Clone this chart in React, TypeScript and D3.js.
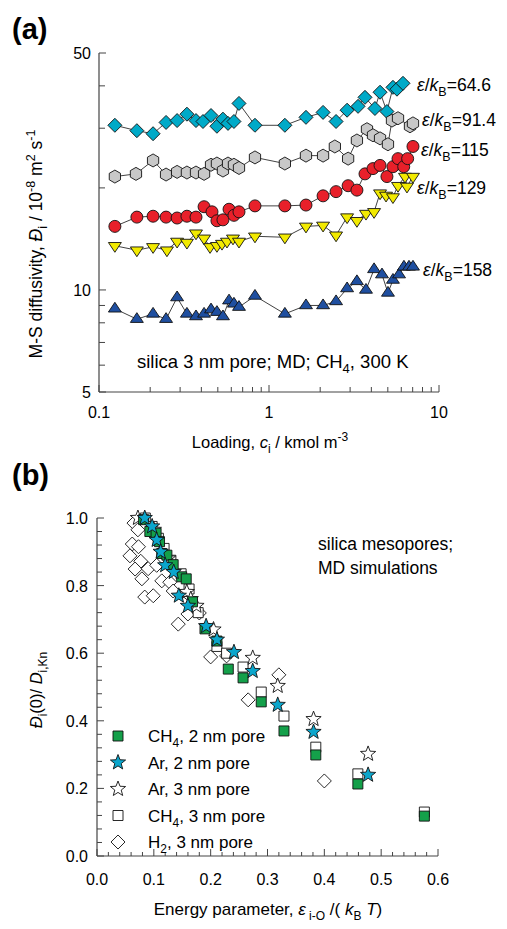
import React from "react";
import * as d3 from "d3";

// ---------- panel (a): M-S diffusivity vs loading, CH4 in 3 nm silica pore ----------
const eps646: [number, number][] = [[0.124,30.6],[0.167,29.5],[0.208,28.9],[0.248,31.2],[0.288,31.6],[0.329,33.0],[0.372,31.6],[0.409,31.4],[0.456,32.7],[0.494,30.4],[0.536,31.9],[0.574,31.0],[0.622,31.4],[0.666,35.5],[0.827,30.6],[1.24,30.6],[1.65,32.3],[2.08,33.4],[2.48,31.4],[2.88,33.9],[3.34,34.8],[3.67,37.0],[4.2,34.3],[4.5,38.3],[4.94,33.6],[5.36,39.6],[5.66,39.1],[6.14,40.7]];
const eps914: [number, number][] = [[0.124,21.6],[0.165,22.0],[0.208,24.1],[0.248,21.9],[0.288,22.3],[0.329,22.2],[0.372,22.2],[0.415,22.0],[0.456,23.4],[0.494,23.6],[0.536,22.5],[0.574,23.6],[0.622,23.4],[0.666,22.9],[0.827,24.6],[1.24,23.6],[1.65,24.9],[2.08,24.9],[2.44,26.5],[2.92,24.4],[3.29,27.6],[3.77,29.8],[4.09,28.6],[4.5,28.0],[5.01,26.9],[5.29,31.6],[5.74,32.1],[6.75,30.4],[7.03,31.0]];
const eps115: [number, number][] = [[0.124,15.4],[0.167,16.4],[0.208,16.5],[0.248,16.4],[0.288,16.3],[0.329,16.5],[0.372,16.4],[0.415,17.6],[0.462,17.0],[0.494,16.0],[0.536,16.1],[0.582,17.3],[0.622,16.6],[0.666,17.0],[0.827,17.7],[1.24,17.7],[1.65,17.8],[2.08,18.95],[2.48,19.5],[2.92,20.3],[3.29,19.7],[3.67,22.0],[4.09,22.8],[4.5,23.3],[4.94,21.6],[5.36,23.1],[5.74,24.4],[6.2,23.1],[6.54,24.4],[7.03,26.5]];
const eps129: [number, number][] = [[0.124,13.5],[0.167,13.1],[0.208,13.4],[0.251,13.1],[0.288,13.9],[0.329,13.8],[0.372,14.7],[0.415,14.2],[0.450,13.4],[0.494,13.5],[0.529,13.7],[0.566,13.9],[0.614,14.2],[0.666,13.9],[0.827,14.4],[1.24,14.3],[1.65,15.4],[2.08,15.5],[2.48,14.5],[2.88,16.4],[3.29,16.0],[3.72,16.8],[4.15,17.0],[4.5,19.3],[4.88,19.0],[5.36,18.8],[5.74,20.3],[6.31,21.6],[6.48,20.2],[7.03,21.6]];
const eps158: [number, number][] = [[0.124,8.8],[0.167,8.2],[0.208,8.5],[0.248,8.2],[0.288,9.5],[0.329,8.5],[0.372,8.35],[0.415,8.5],[0.456,8.75],[0.494,8.6],[0.536,8.35],[0.582,9.3],[0.622,9.1],[0.666,8.9],[0.827,9.6],[1.24,8.5],[1.65,9.0],[2.08,9.0],[2.48,9.25],[2.88,10.1],[3.29,10.6],[3.72,10.0],[4.15,11.5],[4.62,11.1],[5.01,9.8],[5.36,10.7],[5.82,11.1],[6.22,11.7],[6.66,11.7],[7.03,11.7]];

const epsLabels = ["64.6", "91.4", "115", "129", "158"];
const xTicksA = [0.1, 1, 10];
const xTickLabelsA = ["0.1", "1", "10"];
const xMinorA = [0.2, 0.3, 0.4, 0.5, 0.6, 0.7, 0.8, 0.9, 2, 3, 4, 5, 6, 7, 8, 9];
const yTicksA = [5, 10, 50];
const yMinorA = [6, 7, 8, 9, 20, 30, 40];

// ---------- panel (b): normalized zero-loading diffusivity vs energy parameter ----------
const ch4_2nm: [number, number][] = [[0.082,0.995],[0.093,0.96],[0.104,0.955],[0.110,0.93],[0.114,0.895],[0.123,0.89],[0.134,0.862],[0.149,0.826],[0.157,0.82],[0.168,0.752],[0.190,0.672],[0.211,0.636],[0.231,0.553],[0.257,0.527],[0.289,0.456],[0.329,0.370],[0.385,0.299],[0.459,0.213],[0.576,0.118]];
const ar_2nm: [number, number][] = [[0.084,1.0],[0.097,0.975],[0.105,0.935],[0.112,0.9],[0.120,0.86],[0.135,0.84],[0.144,0.77],[0.160,0.74],[0.192,0.68],[0.211,0.64],[0.241,0.603],[0.274,0.547],[0.318,0.447],[0.381,0.367],[0.477,0.240]];
const ar_3nm: [number, number][] = [[0.072,1.0],[0.100,0.965],[0.125,0.88],[0.158,0.781],[0.165,0.76],[0.175,0.74],[0.205,0.67],[0.274,0.586],[0.318,0.503],[0.381,0.405],[0.477,0.302]];
const ch4_3nm: [number, number][] = [[0.085,1.0],[0.097,0.975],[0.108,0.94],[0.118,0.91],[0.130,0.875],[0.148,0.835],[0.162,0.79],[0.178,0.72],[0.211,0.62],[0.228,0.60],[0.257,0.559],[0.289,0.485],[0.329,0.414],[0.385,0.322],[0.459,0.243],[0.576,0.130]];
const h2_3nm: [number, number][] = [[0.065,0.985],[0.072,0.965],[0.062,0.923],[0.073,0.915],[0.058,0.888],[0.077,0.872],[0.067,0.849],[0.090,0.85],[0.079,0.82],[0.105,0.86],[0.114,0.814],[0.128,0.81],[0.134,0.784],[0.084,0.766],[0.099,0.77],[0.143,0.686],[0.160,0.716],[0.180,0.719],[0.200,0.589],[0.228,0.592],[0.266,0.462],[0.320,0.536],[0.400,0.222]];

const legendB = ["CH4, 2 nm pore", "Ar, 2 nm pore", "Ar, 3 nm pore", "CH4, 3 nm pore", "H2, 3 nm pore"];
const xTicksB = [0, 0.1, 0.2, 0.3, 0.4, 0.5, 0.6];
const yTicksB = [0, 0.2, 0.4, 0.6, 0.8, 1.0];

const FONT = "'Liberation Sans', Arial, Helvetica, sans-serif";
const AXIS = "#444";

// marker paths centred on the origin
const diamondPath = (r: number) => `M0,${-r}L${r},0L0,${r}L${-r},0Z`;
const hexPath = (r: number) =>
  d3.range(6).map((k) => {
    const a = (-90 + k * 60) * Math.PI / 180;
    return `${k ? "L" : "M"}${(r * Math.cos(a)).toFixed(2)},${(r * Math.sin(a)).toFixed(2)}`;
  }).join("") + "Z";
const triPath = (r: number, down: boolean) => {
  const s = down ? -1 : 1;
  const h = r * 1.5;
  return `M0,${-s * r}L${r * 0.866 * 1.15},${s * h / 3}L${-r * 0.866 * 1.15},${s * h / 3}Z`;
};
const starPath = (ro: number, ri: number) =>
  d3.range(10).map((k) => {
    const a = (-90 + k * 36) * Math.PI / 180;
    const r = k % 2 ? ri : ro;
    return `${k ? "L" : "M"}${(r * Math.cos(a)).toFixed(2)},${(r * Math.sin(a)).toFixed(2)}`;
  }).join("") + "Z";
const squarePath = (h: number) => `M${-h},${-h}H${h}V${h}H${-h}Z`;

// subscripted chemical label, e.g. "CH4, 2 nm pore"
function ChemLabel({ text, x, y }: { text: string; x: number; y: number }) {
  const m = text.match(/^([A-Za-z]+?)(\d)(,.*)$/);
  if (!m) return <text x={x} y={y}>{text}</text>;
  return (
    <text x={x} y={y}>
      {m[1]}
      <tspan dy={5} fontSize={12}>{m[2]}</tspan>
      <tspan dy={-5}>{m[3]}</tspan>
    </text>
  );
}

export default function App() {
  // panel (a) scales
  const xA = d3.scaleLog().domain([0.1, 10]).range([99, 439]);
  const yA = d3.scaleLog().domain([5, 50]).range([392, 53]);
  // panel (b) scales
  const xB = d3.scaleLinear().domain([0, 0.6]).range([97, 438]);
  const yB = d3.scaleLinear().domain([0, 1]).range([856, 518]);

  const lineA = d3.line<[number, number]>().x((d) => xA(d[0])).y((d) => yA(d[1]));

  const seriesA = [
    { data: eps646, fill: "#00aac8", path: diamondPath(7) },
    { data: eps914, fill: "#c8c8c8", path: hexPath(6.5) },
    { data: eps115, fill: "#e8202a", path: "" },
    { data: eps129, fill: "#f2ea00", path: triPath(6.5, true) },
    { data: eps158, fill: "#1f4fa0", path: triPath(6.5, false) },
  ];
  const labelPos = [
    [417, 91], [422, 126], [421, 156], [417, 194], [423, 276],
  ];

  const xMinorB = d3.range(0, 31).map((i) => i * 0.02);
  const yMinorB = d3.range(0, 26).map((i) => i * 0.04);

  const legendMarks = [
    { path: squarePath(5), fill: "#14a04a" },
    { path: starPath(8, 3.4), fill: "#0ba6cc" },
    { path: starPath(8, 3.4), fill: "#fff" },
    { path: squarePath(5), fill: "#fff" },
    { path: diamondPath(7), fill: "#fff" },
  ];

  return (
    <svg width={507} height={929} style={{ position: "absolute", left: 0, top: 0, background: "#fff" }}
      fontFamily={FONT}>
      {/* ---------------- panel (a) ---------------- */}
      <text x={12} y={39} fontSize={29} fontWeight="bold">(a)</text>

      {/* axes */}
      <line x1={99} x2={99} y1={yA(50)} y2={yA(5)} stroke={AXIS} strokeWidth={1.2} />
      <line x1={99} x2={439} y1={392} y2={392} stroke={AXIS} strokeWidth={1.2} />
      {xTicksA.map((t, i) => (
        <g key={"xa" + t}>
          <line x1={xA(t)} x2={xA(t)} y1={392} y2={385} stroke={AXIS} />
          <text x={xA(t)} y={418} fontSize={16} textAnchor="middle">{xTickLabelsA[i]}</text>
        </g>
      ))}
      {xMinorA.map((t) => (
        <line key={"xam" + t} x1={xA(t)} x2={xA(t)} y1={392} y2={387} stroke={AXIS} />
      ))}
      {yTicksA.map((t) => (
        <g key={"ya" + t}>
          <line x1={99} x2={106} y1={yA(t)} y2={yA(t)} stroke={AXIS} />
          <text x={91} y={yA(t) + 6} fontSize={16} textAnchor="end">{t}</text>
        </g>
      ))}
      {yMinorA.map((t) => (
        <line key={"yam" + t} x1={99} x2={105} y1={yA(t)} y2={yA(t)} stroke={AXIS} />
      ))}

      {/* series */}
      {seriesA.map((s, si) => (
        <g key={"sa" + si}>
          <path d={lineA(s.data) || ""} fill="none" stroke="#111" strokeWidth={0.8} />
          {s.data.map((d, i) =>
            s.path ? (
              <path key={i} d={s.path} transform={`translate(${xA(d[0])},${yA(d[1])})`}
                fill={s.fill} stroke="#111" strokeWidth={0.9} />
            ) : (
              <circle key={i} cx={xA(d[0])} cy={yA(d[1])} r={6} fill={s.fill} stroke="#111" strokeWidth={0.9} />
            )
          )}
        </g>
      ))}

      {epsLabels.map((l, i) => (
        <text key={"lab" + l} x={labelPos[i][0]} y={labelPos[i][1]} fontSize={17.5}>
          <tspan fontStyle="italic">ε</tspan>/<tspan fontStyle="italic">k</tspan>
          <tspan dy={5} fontSize={12.5}>B</tspan>
          <tspan dy={-5}>={l}</tspan>
        </text>
      ))}

      <text x={137} y={368} fontSize={18.5}>
        silica 3 nm pore; MD; CH<tspan dy={5} fontSize={13}>4</tspan><tspan dy={-5}>, 300 K</tspan>
      </text>

      <text x={270} y={448} fontSize={16.5} textAnchor="middle">
        Loading, <tspan fontStyle="italic">c</tspan><tspan dy={5} fontSize={12}>i</tspan>
        <tspan dy={-5}> / kmol m</tspan><tspan dy={-7} fontSize={12}>-3</tspan>
      </text>

      <text transform="translate(42,244) rotate(-90)" fontSize={17.5} textAnchor="middle">
        M-S diffusivity, <tspan fontStyle="italic">Đ</tspan><tspan dy={5} fontSize={12.5}>i</tspan>
        <tspan dy={-5}> / 10</tspan><tspan dy={-7} fontSize={12.5}>-8</tspan>
        <tspan dy={7}> m</tspan><tspan dy={-7} fontSize={12.5}>2</tspan>
        <tspan dy={7}> s</tspan><tspan dy={-7} fontSize={12.5}>-1</tspan>
      </text>

      {/* ---------------- panel (b) ---------------- */}
      <text x={12} y={485} fontSize={29} fontWeight="bold">(b)</text>

      <line x1={97} x2={97} y1={yB(1)} y2={yB(0)} stroke={AXIS} strokeWidth={1.2} />
      <line x1={97} x2={438} y1={yB(0)} y2={yB(0)} stroke={AXIS} strokeWidth={1.2} />
      {xMinorB.map((t, i) => (
        <line key={"xbm" + i} x1={xB(t)} x2={xB(t)} y1={yB(0)} y2={yB(0) - (i % 5 === 0 ? 7 : 4)} stroke={AXIS} />
      ))}
      {xTicksB.map((t) => (
        <text key={"xb" + t} x={xB(t)} y={885} fontSize={16} textAnchor="middle">{t.toFixed(1)}</text>
      ))}
      {yMinorB.map((t, i) => (
        <line key={"ybm" + i} x1={97} x2={97 + (i % 5 === 0 ? 7 : 5)} y1={yB(t)} y2={yB(t)} stroke={AXIS} />
      ))}
      {yTicksB.map((t) => (
        <text key={"yb" + t} x={88} y={yB(t) + 6} fontSize={16} textAnchor="end">{t.toFixed(1)}</text>
      ))}

      {/* scatter: open markers first, filled markers on top */}
      {h2_3nm.map((d, i) => (
        <path key={"h2" + i} d={diamondPath(7)} transform={`translate(${xB(d[0])},${yB(d[1])})`}
          fill="#fff" stroke="#111" strokeWidth={0.9} />
      ))}
      {ch4_3nm.map((d, i) => (
        <path key={"c3" + i} d={squarePath(5)} transform={`translate(${xB(d[0])},${yB(d[1])})`}
          fill="#fff" stroke="#111" strokeWidth={0.9} />
      ))}
      {ar_3nm.map((d, i) => (
        <path key={"a3" + i} d={starPath(8, 3.4)} transform={`translate(${xB(d[0])},${yB(d[1])})`}
          fill="#fff" stroke="#111" strokeWidth={0.9} />
      ))}
      {ch4_2nm.map((d, i) => (
        <path key={"c2" + i} d={squarePath(5)} transform={`translate(${xB(d[0])},${yB(d[1])})`}
          fill="#14a04a" stroke="#111" strokeWidth={0.9} />
      ))}
      {ar_2nm.map((d, i) => (
        <path key={"a2" + i} d={starPath(8, 3.4)} transform={`translate(${xB(d[0])},${yB(d[1])})`}
          fill="#0ba6cc" stroke="#111" strokeWidth={0.9} />
      ))}

      {/* legend */}
      {legendB.map((l, i) => {
        const cy = 736 + i * 26.5;
        return (
          <g key={"lg" + i} fontSize={17}>
            <path d={legendMarks[i].path} transform={`translate(118,${cy})`}
              fill={legendMarks[i].fill} stroke="#111" strokeWidth={0.9} />
            <ChemLabel text={l} x={148} y={cy + 6} />
          </g>
        );
      })}

      <text x={318} y={550} fontSize={17.5}>silica mesopores;</text>
      <text x={318} y={574} fontSize={17.5}>MD simulations</text>

      <text x={268} y={915} fontSize={17} textAnchor="middle">
        Energy parameter, <tspan fontStyle="italic">ε</tspan>
        <tspan dy={5} fontSize={12}> i-O</tspan><tspan dy={-5}> /( </tspan>
        <tspan fontStyle="italic">k</tspan><tspan dy={5} fontSize={12}>B</tspan>
        <tspan dy={-5}> </tspan><tspan fontStyle="italic">T</tspan>)
      </text>

      <text transform="translate(42,690) rotate(-90)" fontSize={16.5} textAnchor="middle">
        <tspan fontStyle="italic">Đ</tspan><tspan dy={5} fontSize={12}>i</tspan>
        <tspan dy={-5}>(0)/ </tspan><tspan fontStyle="italic">D</tspan>
        <tspan dy={5} fontSize={12}>i,Kn</tspan>
      </text>
    </svg>
  );
}
